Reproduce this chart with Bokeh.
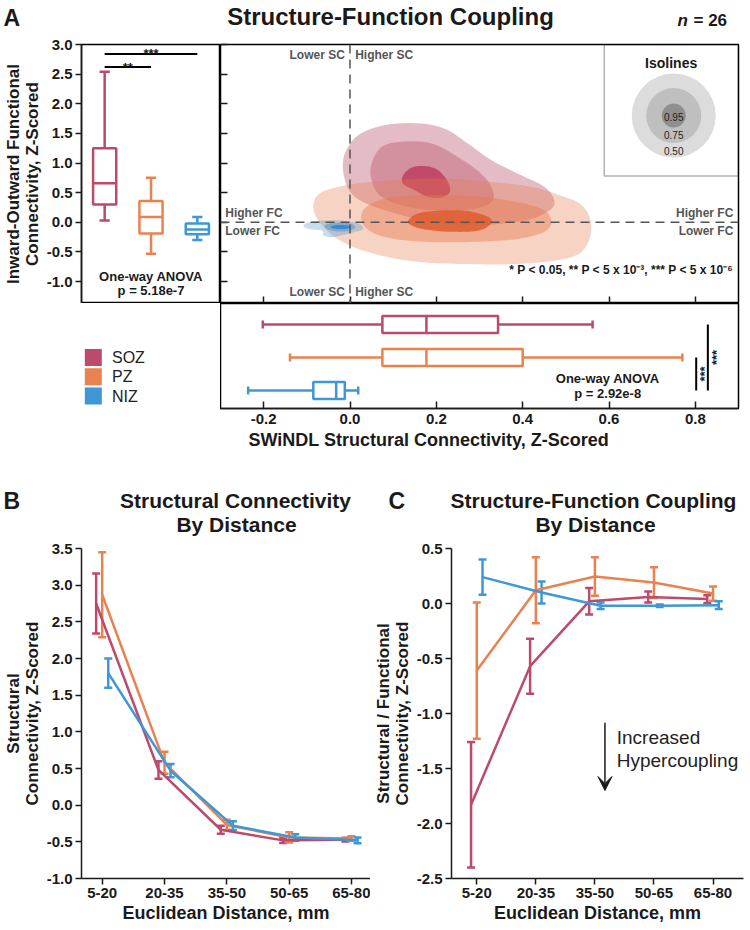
import numpy as np
from bokeh.plotting import figure
from bokeh.models import (Range1d, FixedTicker, NumeralTickFormatter, Span, BoxAnnotation, Label,
                          Arrow, VeeHead, Whisker, TeeHead, ColumnDataSource, Title)
from bokeh.layouts import column, row
from bokeh.embed import file_html
from bokeh.resources import INLINE
from bokeh.core.properties import value

FONT = "Liberation Sans"
INK = "#1a1a1a"

groups = ["SOZ", "PZ", "NIZ"]
group_colors = ["#bb4a6b", "#e9824f", "#3f97d5"]

# ---------------- Panel A, left: inward-outward FC (box stats) ----------------
fc_whisker_lo = [0.03, -0.53, -0.30]
fc_q1 = [0.30, -0.19, -0.20]
fc_median = [0.66, 0.09, -0.12]
fc_q3 = [1.25, 0.36, -0.02]
fc_whisker_hi = [2.54, 0.75, 0.09]
fc_sig_pairs = [(1, 3, "***"), (1, 2, "**")]
fc_sig_levels = [2.84, 2.62]
fc_anova = ["One-way ANOVA", "p = 5.18e-7"]
fc_ticks = [-1.0, -0.5, 0.0, 0.5, 1.0, 1.5, 2.0, 2.5, 3.0]

# ---------------- Panel A, bottom: SWiNDL SC (box stats) ----------------
sc_whisker_lo = [-0.202, -0.139, -0.236]
sc_q1 = [0.075, 0.075, -0.085]
sc_median = [0.177, 0.177, -0.032]
sc_q3 = [0.343, 0.400, -0.012]
sc_whisker_hi = [0.562, 0.770, 0.019]
sc_rows = [3, 2, 1]
sc_sig_pairs = [(2, 1, "***"), (3, 1, "***")]
sc_sig_x = [0.802, 0.829]
sc_anova = ["One-way ANOVA", "p = 2.92e-8"]
sc_ticks = [-0.2, 0.0, 0.2, 0.4, 0.6, 0.8]

# ---------------- Panel A, centre: density isolines (0.50, 0.75, 0.95) ----------------
soz_iso_x = [
    [-0.012, 0.019, 0.081, 0.158, 0.219, 0.273, 0.327, 0.389, 0.450, 0.473, 0.462, 0.404, 0.289, 0.173, 0.058, 0.004, -0.015],
    [0.050, 0.073, 0.119, 0.189, 0.250, 0.304, 0.331, 0.327, 0.289, 0.212, 0.135, 0.073, 0.050],
    [0.123, 0.142, 0.173, 0.204, 0.227, 0.231, 0.212, 0.181, 0.150, 0.123],
]
soz_iso_y = [
    [1.16, 1.47, 1.64, 1.67, 1.58, 1.33, 1.05, 0.82, 0.60, 0.37, 0.20, 0.03, -0.05, 0.03, 0.26, 0.48, 0.82],
    [0.99, 1.27, 1.36, 1.33, 1.10, 0.82, 0.54, 0.34, 0.23, 0.20, 0.26, 0.43, 0.71],
    [0.79, 0.92, 0.95, 0.88, 0.68, 0.51, 0.42, 0.43, 0.54, 0.65],
]
pz_iso_x = [
    [-0.085, -0.065, 0.004, 0.096, 0.212, 0.327, 0.420, 0.480, 0.535, 0.558, 0.550, 0.512, 0.396, 0.243, 0.127, 0.027, -0.035, -0.073],
    [0.027, 0.050, 0.096, 0.173, 0.289, 0.389, 0.450, 0.466, 0.450, 0.389, 0.289, 0.173, 0.081, 0.035],
    [0.135, 0.158, 0.212, 0.273, 0.320, 0.327, 0.297, 0.235, 0.173, 0.142],
]
pz_iso_y = [
    [0.29, 0.51, 0.64, 0.71, 0.74, 0.68, 0.60, 0.47, 0.30, 0.00, -0.36, -0.59, -0.70, -0.70, -0.64, -0.47, -0.25, 0.03],
    [0.15, 0.32, 0.42, 0.46, 0.44, 0.34, 0.20, 0.01, -0.16, -0.28, -0.33, -0.33, -0.25, -0.08],
    [0.03, 0.15, 0.20, 0.19, 0.09, -0.02, -0.14, -0.16, -0.12, -0.05],
]
niz_iso_x = [
    [-0.108, -0.088, -0.058, -0.019, 0.019, 0.031, 0.012, -0.019, -0.042, -0.061, -0.065, -0.096],
    [-0.058, -0.035, 0.000, 0.012, -0.008, -0.035, -0.054],
    [-0.045, -0.033, -0.010, 0.003, -0.010, -0.033],
]
niz_iso_y = [
    [-0.05, 0.01, 0.03, 0.03, -0.02, -0.11, -0.16, -0.22, -0.25, -0.22, -0.14, -0.11],
    [-0.05, -0.01, -0.02, -0.09, -0.15, -0.15, -0.11],
    [-0.08, -0.05, -0.05, -0.08, -0.11, -0.11],
]
iso_labels = ["0.50", "0.75", "0.95"]

# ---------------- Panels B & C: by distance ----------------
distance_bins = ["5-20", "20-35", "35-50", "50-65", "65-80"]
sc_dist_mean = {
    "SOZ": [2.75, 0.48, -0.335, -0.48, -0.47],
    "PZ": [2.87, 0.58, -0.27, -0.44, -0.455],
    "NIZ": [1.80, 0.47, -0.28, -0.44, -0.48],
}
sc_dist_err = {
    "SOZ": [0.41, 0.12, 0.055, 0.035, 0.025],
    "PZ": [0.58, 0.15, 0.07, 0.07, 0.03],
    "NIZ": [0.20, 0.09, 0.06, 0.045, 0.04],
}
sfc_dist_mean = {
    "SOZ": [-1.83, -0.57, 0.02, 0.06, 0.04],
    "PZ": [-0.61, 0.12, 0.245, 0.19, 0.09],
    "NIZ": [0.24, 0.10, -0.02, -0.02, -0.015],
}
sfc_dist_err = {
    "SOZ": [0.57, 0.25, 0.12, 0.05, 0.035],
    "PZ": [0.62, 0.30, 0.175, 0.14, 0.065],
    "NIZ": [0.16, 0.10, 0.03, 0.012, 0.035],
}


def smooth_closed(xs, ys, k=10):
    """Closed Catmull-Rom outline through the traced isoline vertices."""
    P = np.column_stack([xs, ys]).astype(float)
    n = len(P)
    out = []
    for i in range(n):
        p0, p1, p2, p3 = P[i - 1], P[i], P[(i + 1) % n], P[(i + 2) % n]
        for t in np.linspace(0, 1, k, endpoint=False):
            out.append(0.5 * (2 * p1 + (p2 - p0) * t + (2 * p0 - 5 * p1 + 4 * p2 - p3) * t * t
                              + (3 * p1 - p0 - 3 * p2 + p3) * t ** 3))
    out = np.array(out)
    return out[:, 0].tolist(), out[:, 1].tolist()


def base_fig(w, h, **kw):
    p = figure(width=w, height=h, output_backend="svg", toolbar_location=None, frame_align=False, **kw)
    p.background_fill_color = "white"
    p.border_fill_color = "white"
    return p


def style_axis(ax, tick_size="15px", label_size="17px"):
    ax.major_label_text_font = FONT
    ax.major_label_text_font_style = "bold"
    ax.major_label_text_font_size = tick_size
    ax.major_label_text_color = INK
    ax.axis_label_text_font = FONT
    ax.axis_label_text_font_style = "bold"
    ax.axis_label_text_font_size = label_size
    ax.axis_label_text_color = INK
    ax.axis_label_text_line_height = 1.0
    ax.axis_line_color = INK
    ax.axis_line_width = 1.5
    ax.major_tick_line_color = INK
    ax.major_tick_line_width = 1.5
    ax.minor_tick_line_color = None


def txt(p, x, y, text, size="13px", bold=True, align="center", baseline="middle", color=INK, italic=False, angle=0):
    style = "bold" if bold else "normal"
    if italic:
        style = "bold italic" if bold else "italic"
    p.text(x=x, y=y, text=text, text_font=value(FONT), text_font_style=style, text_font_size=size,
           text_align=align, text_baseline=baseline, text_color=color, angle=angle)


def lab(p, x, y, text, size="13px", bold=True, align="center", italic=False, color=INK):
    style = "bold" if bold else "normal"
    if italic:
        style = "bold italic" if bold else "italic"
    p.add_layout(Label(x=x, y=y, text=text, text_font=FONT, text_font_style=style, text_font_size=size,
                       text_align=align, text_baseline="middle", text_color=color))


def header(w, h):
    p = base_fig(w, h, x_range=Range1d(0, w), y_range=Range1d(h, 0), x_axis_type=None, y_axis_type=None,
                 min_border=0)
    p.outline_line_color = None
    return p


# ---------------- header A ----------------
hdr1 = header(750, 30)
lab(hdr1, 3, 17, "A", size="23px", align="left")
lab(hdr1, 390, 16, "Structure-Function Coupling", size="24px")
lab(hdr1, 677, 20, "n", size="17px", align="left", italic=True)
lab(hdr1, 693, 20, "= 26", size="17px", align="left")

yA = Range1d(-1.37, 3.0)
xA = Range1d(-0.3, 0.9)

# ---------------- A1: FC box plot ----------------
pA1 = base_fig(220, 273, x_range=Range1d(0.5, 3.5), y_range=yA, x_axis_type=None,
               min_border_left=79, min_border_right=0, min_border_top=14, min_border_bottom=0)
pA1.grid.visible = False
pA1.outline_line_color = "black"
pA1.outline_line_width = 1.5
ya = pA1.yaxis[0]
style_axis(ya)
ya.ticker = FixedTicker(ticks=fc_ticks)
ya.formatter = NumeralTickFormatter(format="0.0")
ya.major_tick_out = 6
ya.major_tick_in = 0
ya.major_label_standoff = 3
ya.axis_label_standoff = 2
ya.axis_label = "Inward-Outward Functional\nConnectivity, Z-Scored"

gx = [1, 2, 3]
bw = 0.5
cap = 0.11
pA1.segment(x0=gx, y0=fc_q3, x1=gx, y1=fc_whisker_hi, line_color=group_colors, line_width=2.5)
pA1.segment(x0=gx, y0=fc_whisker_lo, x1=gx, y1=fc_q1, line_color=group_colors, line_width=2.5)
pA1.segment(x0=[x - cap for x in gx], y0=fc_whisker_hi, x1=[x + cap for x in gx], y1=fc_whisker_hi,
            line_color=group_colors, line_width=2.5)
pA1.segment(x0=[x - cap for x in gx], y0=fc_whisker_lo, x1=[x + cap for x in gx], y1=fc_whisker_lo,
            line_color=group_colors, line_width=2.5)
pA1.vbar(x=gx, bottom=fc_q1, top=fc_q3, width=bw, fill_color="white", line_color=group_colors, line_width=2.5)
pA1.segment(x0=[x - bw / 2 for x in gx], y0=fc_median, x1=[x + bw / 2 for x in gx], y1=fc_median,
            line_color=group_colors, line_width=2.5)
pA1.segment(x0=[a for a, b, s in fc_sig_pairs], y0=fc_sig_levels, x1=[b for a, b, s in fc_sig_pairs],
            y1=fc_sig_levels, line_color="black", line_width=2)
txt(pA1, [(a + b) / 2 for a, b, s in fc_sig_pairs], fc_sig_levels, [s for a, b, s in fc_sig_pairs], size="13px")
txt(pA1, [2, 2], [-0.91, -1.15], fc_anova, size="13px")

# ---------------- A2: density isolines ----------------
pA2 = base_fig(530, 273, x_range=xA, y_range=yA, min_border_left=0, min_border_right=12,
               min_border_top=14, min_border_bottom=0)
pA2.grid.visible = False
pA2.outline_line_color = "black"
pA2.outline_line_width = 1.5
for ax, ticks in ((pA2.xaxis[0], sc_ticks), (pA2.yaxis[0], fc_ticks)):
    ax.ticker = FixedTicker(ticks=ticks)
    ax.major_label_overrides = {t: "" for t in ticks}
    ax.major_label_text_font_size = "0px"
    ax.major_label_standoff = 0
    ax.axis_line_color = None
    ax.major_tick_out = 0
    ax.major_tick_in = 7
    ax.major_tick_line_width = 1.5
    ax.major_tick_line_color = INK
    ax.minor_tick_line_color = None

iso_style = {
    "SOZ": (["#b5445f", "#b5445f", "#bd3d60"], [0.36, 0.36, 0.85]),
    "PZ": (["#e8784a", "#e8784a", "#de5a2e"], [0.33, 0.42, 0.85]),
    "NIZ": (["#3a8fd0", "#3a8fd0", "#2f86cc"], [0.30, 0.45, 0.90]),
}
for g, xs_l, ys_l in (("SOZ", soz_iso_x, soz_iso_y), ("PZ", pz_iso_x, pz_iso_y), ("NIZ", niz_iso_x, niz_iso_y)):
    cols, alphas = iso_style[g]
    for lev in range(3):
        sx, sy = smooth_closed(xs_l[lev], ys_l[lev])
        pA2.patch(sx, sy, fill_color=cols[lev], fill_alpha=alphas[lev], line_color=None)

for dim in ("width", "height"):
    pA2.add_layout(Span(location=0, dimension=dim, line_color="#555555", line_width=1.5, line_dash="9 6"))

pA2.add_layout(BoxAnnotation(left=0.589, bottom=0.78, fill_alpha=0, line_color="black", line_width=1.5))
pA2.scatter(x=[0.75, 0.75, 0.75], y=[1.80, 1.80, 1.80], size=[84, 55, 24], marker="circle",
            fill_color=["#dcdcdc", "#bfbfbf", "#8f8f8f"], line_color=None)
txt(pA2, [0.75, 0.75, 0.75], [1.20, 1.47, 1.78], iso_labels, size="10px", bold=False, color="#222222")
txt(pA2, [0.744], [2.68], ["Isolines"], size="14px")

gray = "#555555"
txt(pA2, [-0.012, -0.012], [2.82, -1.18], ["Lower SC", "Lower SC"], size="12px", align="right", color=gray)
txt(pA2, [0.012, 0.012], [2.82, -1.18], ["Higher SC", "Higher SC"], size="12px", align="left", color=gray)
txt(pA2, [-0.289, -0.289], [0.16, -0.15], ["Higher FC", "Lower FC"], size="12px", align="left", color=gray)
txt(pA2, [0.888, 0.888], [0.16, -0.15], ["Higher FC", "Lower FC"], size="12px", align="right", color=gray)
txt(pA2, [0.888], [-0.81], ["* P < 0.05, ** P < 5 x 10\u207b\u00b3, *** P < 5 x 10\u207b\u2076"], size="12px",
    align="right")

# ---------------- legend panel (key squares + group names) ----------------
pL = header(220, 157)
key_rows = [54 + 19.3 * i for i in range(len(groups))]
pL.scatter(x=[92.8] * len(groups), y=key_rows, marker="square", size=17, fill_color=group_colors,
           line_color=None)
txt(pL, [111.5] * len(groups), key_rows, groups, size="16px", bold=False, align="left", color="#222222")

# ---------------- A3: SC box plot ----------------
pA3 = base_fig(530, 157, x_range=xA, y_range=Range1d(0.455, 3.636), y_axis_type=None,
               min_border_left=0, min_border_right=12, min_border_top=0, min_border_bottom=52)
pA3.grid.visible = False
pA3.outline_line_color = "black"
pA3.outline_line_width = 1.5
xa = pA3.xaxis[0]
style_axis(xa)
xa.ticker = FixedTicker(ticks=sc_ticks)
xa.formatter = NumeralTickFormatter(format="0.0")
xa.major_tick_in = 7
xa.major_tick_out = 0
xa.major_label_standoff = 5
pA3.add_layout(Title(text="SWiNDL Structural Connectivity, Z-Scored", align="left", offset=28,
                     text_font=FONT, text_font_style="bold", text_font_size="18px", text_color=INK,
                     standoff=2), "below")

bh = 0.52
hcap = 0.12
pA3.segment(x0=sc_whisker_lo, y0=sc_rows, x1=sc_q1, y1=sc_rows, line_color=group_colors, line_width=2.5)
pA3.segment(x0=sc_q3, y0=sc_rows, x1=sc_whisker_hi, y1=sc_rows, line_color=group_colors, line_width=2.5)
pA3.segment(x0=sc_whisker_lo, y0=[y - hcap for y in sc_rows], x1=sc_whisker_lo, y1=[y + hcap for y in sc_rows],
            line_color=group_colors, line_width=2.5)
pA3.segment(x0=sc_whisker_hi, y0=[y - hcap for y in sc_rows], x1=sc_whisker_hi, y1=[y + hcap for y in sc_rows],
            line_color=group_colors, line_width=2.5)
pA3.hbar(y=sc_rows, left=sc_q1, right=sc_q3, height=bh, fill_color="white", line_color=group_colors,
         line_width=2.5)
pA3.segment(x0=sc_median, y0=[y - bh / 2 for y in sc_rows], x1=sc_median, y1=[y + bh / 2 for y in sc_rows],
            line_color=group_colors, line_width=2.5)
pA3.segment(x0=sc_sig_x, y0=[a for a, b, s in sc_sig_pairs], x1=sc_sig_x, y1=[b for a, b, s in sc_sig_pairs],
            line_color="black", line_width=2)
txt(pA3, [x + 0.019 for x in sc_sig_x], [(a + b) / 2 for a, b, s in sc_sig_pairs],
    [s for a, b, s in sc_sig_pairs], size="13px", angle=np.pi / 2)
txt(pA3, [0.597, 0.597], [1.364, 0.91], sc_anova, size="13px")

# ---------------- header B / C ----------------
hdr3 = header(750, 78)
lab(hdr3, 3, 40, "B", size="23px", align="left")
lab(hdr3, 235, 40, "Structural Connectivity", size="21px")
lab(hdr3, 236, 64, "By Distance", size="21px")
lab(hdr3, 388, 40, "C", size="23px", align="left")
lab(hdr3, 593, 40, "Structure-Function Coupling", size="21px")
lab(hdr3, 595, 64, "By Distance", size="21px")


def dist_panel(w, h, xr, yr, yticks, means, errs, ylabel, mbl, mbr, mbt, mbb):
    p = base_fig(w, h, x_range=Range1d(*xr), y_range=Range1d(*yr), min_border_left=mbl, min_border_right=mbr,
                 min_border_top=mbt, min_border_bottom=mbb)
    p.grid.visible = False
    p.outline_line_color = None
    for ax in (p.xaxis[0], p.yaxis[0]):
        style_axis(ax)
        ax.major_tick_out = 6
        ax.major_tick_in = 0
        ax.major_label_standoff = 3
        ax.axis_label_standoff = 2
    p.xaxis[0].axis_label_text_font_size = "18px"
    p.xaxis[0].ticker = FixedTicker(ticks=[1, 2, 3, 4, 5])
    p.xaxis[0].major_label_overrides = {i + 1: b for i, b in enumerate(distance_bins)}
    p.xaxis[0].axis_label = "Euclidean Distance, mm"
    p.yaxis[0].ticker = FixedTicker(ticks=yticks)
    p.yaxis[0].formatter = NumeralTickFormatter(format="0.0")
    p.yaxis[0].axis_label = ylabel
    offsets = {"SOZ": -0.097, "PZ": 0.0, "NIZ": 0.097}
    for g, c in zip(groups, group_colors):
        xs = [i + 1 + offsets[g] for i in range(len(distance_bins))]
        m = means[g]
        e = errs[g]
        p.line(xs, m, line_color=c, line_width=2.5)
        src = ColumnDataSource(dict(x=xs, lo=[a - b for a, b in zip(m, e)], hi=[a + b for a, b in zip(m, e)]))
        p.add_layout(Whisker(source=src, base="x", lower="lo", upper="hi", dimension="height",
                             line_color=c, line_width=2.5,
                             lower_head=TeeHead(size=8, line_color=c, line_width=2.5),
                             upper_head=TeeHead(size=8, line_color=c, line_width=2.5)))
    return p


pB = dist_panel(370, 392, (0.668, 5.305), (-1.0, 3.5), [-1.0, -0.5, 0.0, 0.5, 1.0, 1.5, 2.0, 2.5, 3.0, 3.5],
                sc_dist_mean, sc_dist_err, "Structural\nConnectivity, Z-Scored", 81, 0, 10, 52)
pC = dist_panel(380, 392, (0.572, 5.516), (-2.5, 0.5), [-2.5, -2.0, -1.5, -1.0, -0.5, 0.0, 0.5],
                sfc_dist_mean, sfc_dist_err, "Structural / Functional\nConnectivity, Z-Scored", 73, 7, 10, 52)
pC.add_layout(Arrow(x_start=3.17, y_start=-1.085, x_end=3.17, y_end=-1.70, line_color=INK, line_width=1.5,
                    end=VeeHead(size=14, fill_color=INK, line_color=INK)))
txt(pC, [3.37, 3.37], [-1.22, -1.43], ["Increased", "Hypercoupling"], size="19px", bold=False, align="left",
    color="#222222")

layout = column(hdr1, row(pA1, pA2), row(pL, pA3), hdr3, row(pB, pC))
open("out.html", "w").write(file_html(layout, INLINE))
